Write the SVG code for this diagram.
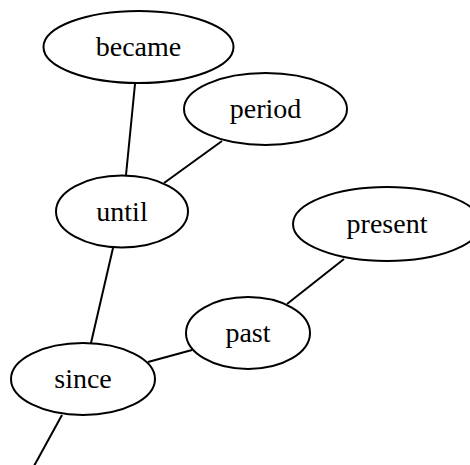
<svg xmlns="http://www.w3.org/2000/svg" width="470" height="465" viewBox="0 0 470 465">
  <style>
    .node ellipse { fill: #ffffff; stroke: #000000; stroke-width: 2; }
    .node text { font-family: "Liberation Serif", "Times New Roman", serif; font-size: 28px; fill: #000000; text-anchor: middle; }
    .edges line { stroke: #000000; stroke-width: 2; fill: none; }
  </style>
  <rect width="470" height="465" fill="#ffffff"/>
  <g class="edges">
    <line x1="135" y1="84" x2="126" y2="175"/>
    <line x1="222" y1="141" x2="164" y2="183"/>
    <line x1="113" y1="248" x2="91" y2="343"/>
    <line x1="344" y1="259" x2="287" y2="304"/>
    <line x1="192" y1="350" x2="148" y2="362"/>
    <line x1="62" y1="415" x2="34" y2="466"/>
  </g>
  <g id="became" class="node">
    <ellipse cx="138.5" cy="47" rx="95" ry="36"/>
    <text x="138.5" y="56">became</text>
  </g>
  <g id="period" class="node">
    <ellipse cx="265.5" cy="109" rx="81.5" ry="36"/>
    <text x="265.5" y="118">period</text>
  </g>
  <g id="until" class="node">
    <ellipse cx="122" cy="211.5" rx="66" ry="36"/>
    <text x="122" y="220.5">until</text>
  </g>
  <g id="present" class="node">
    <ellipse cx="387" cy="224" rx="94" ry="37"/>
    <text x="387" y="233">present</text>
  </g>
  <g id="past" class="node">
    <ellipse cx="248" cy="333" rx="62" ry="36"/>
    <text x="248" y="342">past</text>
  </g>
  <g id="since" class="node">
    <ellipse cx="83" cy="379" rx="72" ry="36"/>
    <text x="83" y="388">since</text>
  </g>
</svg>
